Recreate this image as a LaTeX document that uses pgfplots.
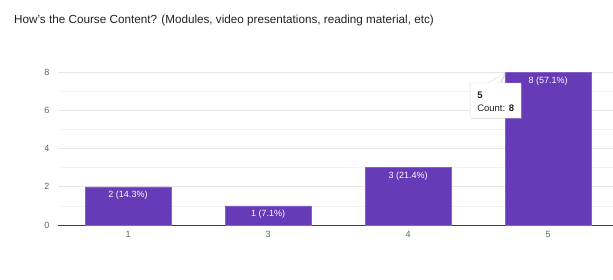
\documentclass[border=0pt]{standalone}
\usepackage{pgfplots}
\pgfplotsset{compat=1.18}
\usepackage{fontspec}
\setmainfont{Liberation Sans}
\usetikzlibrary{shadows}
\definecolor{barpurple}{HTML}{673AB7}
\definecolor{ticklab}{HTML}{5F6368}
\definecolor{titlecol}{HTML}{202124}
\definecolor{majgrid}{HTML}{E6E6E6}
\definecolor{mingrid}{HTML}{F3F3F3}
\begin{document}
\begin{tikzpicture}[x=1pt,y=1pt]
\path[use as bounding box] (0,0) rectangle (613,279);
\node[anchor=west, text=titlecol, font=\fontsize{11.7}{14}\selectfont, inner sep=0pt] at (14,259) {How’s the Course Content? (Modules, video presentations, reading material, etc)};
\begin{axis}[
  at={(58pt,54pt)}, anchor=south west,
  scale only axis, width=555pt, height=153pt,
  xmin=-0.5, xmax=3.464, ymin=0, ymax=8,
  axis x line*=bottom, axis y line*=left,
  x axis line style={draw=black!75, line width=0.8pt, -},
  y axis line style={draw=none},
  xtick={0,1,2,3}, xticklabels={1,3,4,5},
  ytick={0,2,4,6,8},
  minor y tick num=1,
  major tick length=0pt, minor tick length=0pt,
  ymajorgrids, yminorgrids,
  major grid style={majgrid, line width=0.6pt},
  minor grid style={mingrid, line width=0.6pt},
  tick label style={font=\fontsize{9}{10}\selectfont, text=ticklab},
  xticklabel style={yshift=-3pt},
  yticklabel style={xshift=-5pt},
  /pgf/number format/assume math mode=true,
  ybar, bar width=0.614, bar shift=0pt,
  nodes near coords,
  point meta=explicit symbolic,
  every node near coord/.style={anchor=north, text=white, font=\fontsize{9}{10}\selectfont, yshift=-1pt},
  clip=false,
]
\addplot[fill=barpurple, draw=barpurple!80!white] coordinates {
  (0,2) [2 (14.3\%)]
  (1,1) [1 (7.1\%)]
  (2,3) [3 (21.4\%)]
  (3,8) [8 (57.1\%)]
};
\filldraw[white, draw=black!15, drop shadow={opacity=0.25, shadow xshift=1pt, shadow yshift=-1pt}]
  (axis cs:2.443,7.425) -- (axis cs:2.571,7.425) -- (axis cs:2.693,7.948) -- (axis cs:2.657,7.425)
  -- (axis cs:2.807,7.425) -- (axis cs:2.807,5.595) -- (axis cs:2.443,5.595) -- cycle;
\node[anchor=west, inner sep=0pt, font=\fontsize{9.5}{11}\selectfont\bfseries, text=titlecol] at (axis cs:2.493,6.80) {5};
\node[anchor=west, inner sep=0pt, font=\fontsize{9.5}{11}\selectfont, text=titlecol] at (axis cs:2.493,6.08) {Count: \textbf{8}};
\end{axis}
\end{tikzpicture}
\end{document}
